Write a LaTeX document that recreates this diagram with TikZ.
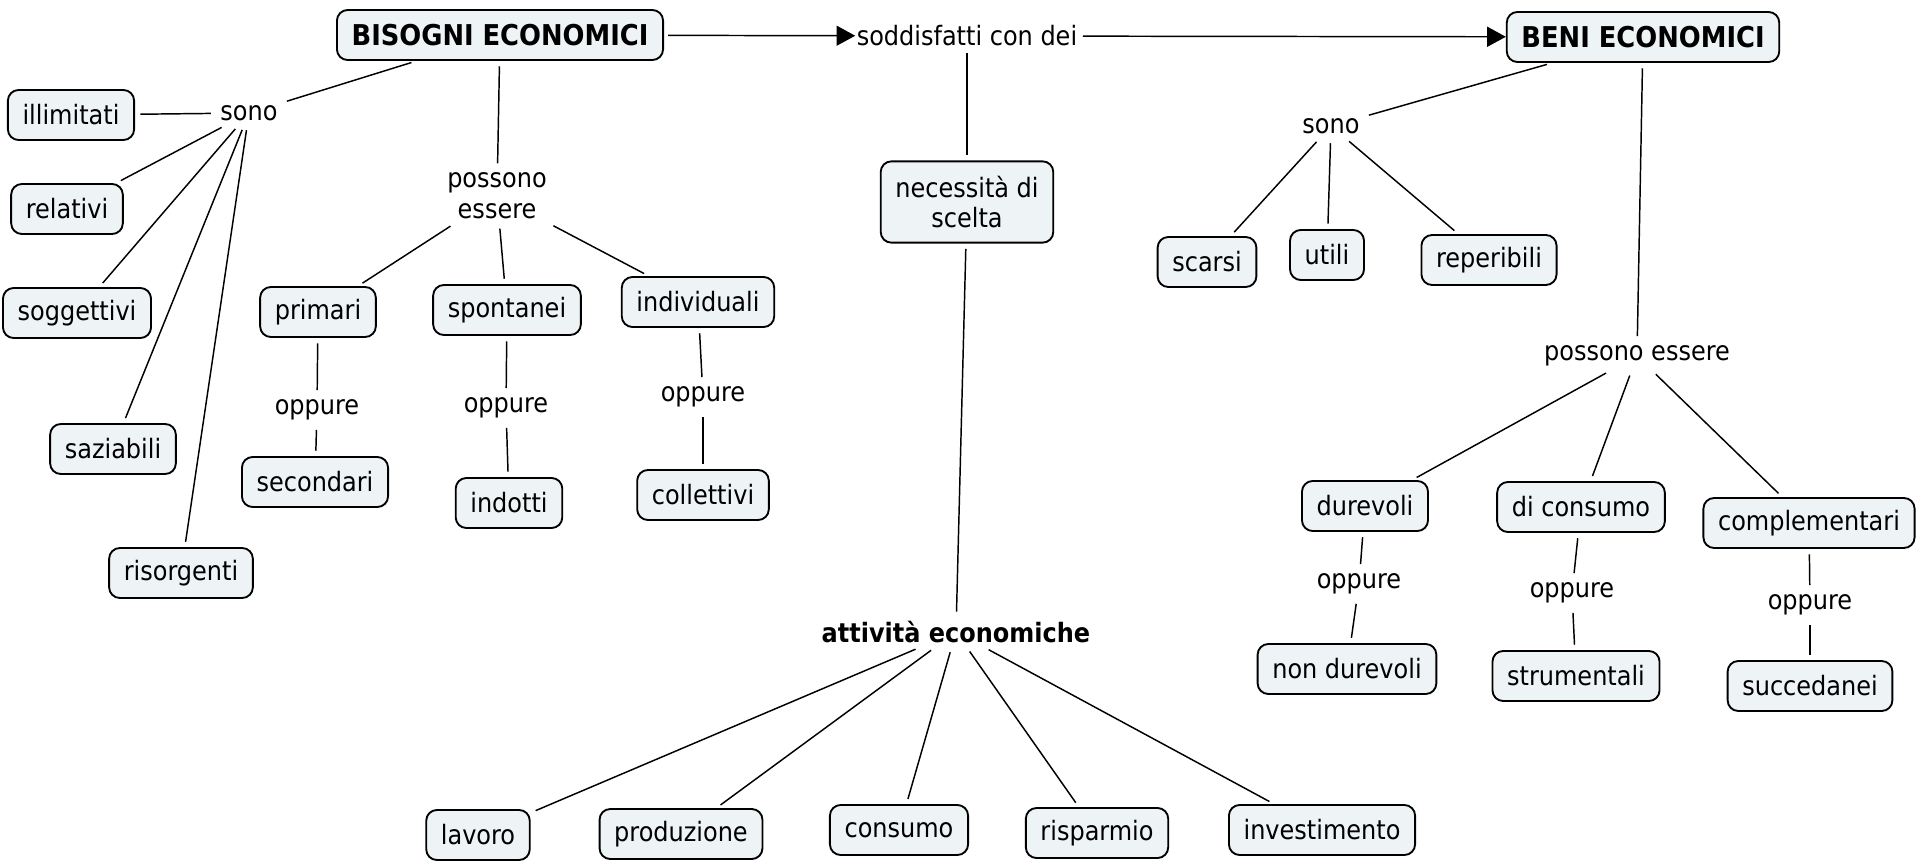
\documentclass[tikz,border=0pt]{standalone}
\usepackage{fontspec}
\setmainfont{DejaVu Sans Condensed}
\usetikzlibrary{arrows.meta}
\definecolor{boxfill}{HTML}{EEF3F5}
\newcommand\fsz{\fontsize{20pt}{23pt}\selectfont}
\newcommand\bsz{\fontsize{21.5pt}{25pt}\selectfont\bfseries}
\newcommand\asz{\fontsize{20pt}{23pt}\selectfont\bfseries}
\tikzset{
  box/.style={draw=black, line width=1.4pt, rounded corners=8pt, fill=boxfill,
    inner xsep=11pt, inner ysep=5pt, minimum height=37.5pt, align=center, font=\fsz},
  lbl/.style={inner sep=3pt, align=center, font=\fsz},
  conn/.style={line width=1.1pt, shorten <=4pt, shorten >=4pt},
  arr/.style={line width=1.1pt, shorten <=3pt, -{Triangle[length=14pt,width=15pt]}}
}
\begin{document}
\begin{tikzpicture}[x=0.75pt,y=-0.75pt]
\useasboundingbox (0,0) rectangle (1920,862);
% top row
\node[box,font=\bsz] (bis) at (500,35) {BISOGNI ECONOMICI};
\node[lbl,inner sep=1pt] (sod) at (967,36) {soddisfatti con dei};
\node[box,font=\bsz] (beni) at (1643,37) {BENI ECONOMICI};
% left: sono
\node[lbl] (sonoL) at (249,113) {sono};
\node[box] (ill) at (71,115) {illimitati};
\node[box] (rel) at (67,209) {relativi};
\node[box] (sog) at (77,313) {soggettivi};
\node[box] (saz) at (113,449) {saziabili};
\node[box] (ris) at (181,573) {risorgenti};
% left: possono essere
\node[lbl] (posL) at (497,196) {possono\\essere};
\node[box] (pri) at (318,312) {primari};
\node[box] (spo) at (507,310) {spontanei};
\node[box] (ind) at (698,302) {individuali};
\node[lbl] (o1) at (317,410) {oppure};
\node[lbl] (o2) at (506,408) {oppure};
\node[lbl] (o3) at (703,397) {oppure};
\node[box] (sec) at (315,482) {secondari};
\node[box] (indo) at (509,503) {indotti};
\node[box] (col) at (703,495) {collettivi};
% middle
\node[box,minimum height=61pt] (nec) at (967,202) {necessità di\\scelta};
\node[lbl,font=\asz] (att) at (956,632) {attività economiche};
\node[box] (lav) at (478,835) {lavoro};
\node[box] (pro) at (681,834) {produzione};
\node[box] (con) at (899,830) {consumo};
\node[box] (rsp) at (1097,833) {risparmio};
\node[box] (inv) at (1322,830) {investimento};
% right: sono
\node[lbl] (sonoR) at (1331,126) {sono};
\node[box] (sca) at (1207,262) {scarsi};
\node[box] (uti) at (1327,255) {utili};
\node[box] (rep) at (1489,260) {reperibili};
% right: possono essere
\node[lbl] (posR) at (1637,356) {possono essere};
\node[box] (dur) at (1365,506) {durevoli};
\node[box] (dic) at (1581,507) {di consumo};
\node[box] (com) at (1809,523) {complementari};
\node[lbl] (r1) at (1359,584) {oppure};
\node[lbl] (r2) at (1572,593) {oppure};
\node[lbl] (r3) at (1810,605) {oppure};
\node[box] (nond) at (1347,669) {non durevoli};
\node[box] (str) at (1576,676) {strumentali};
\node[box] (suc) at (1810,686) {succedanei};
% arrows
\draw[arr] (bis) -- (sod);
\draw[arr] (sod) -- (beni);
% connectors left
\draw[conn] (bis) -- (sonoL);
\foreach \t in {ill,rel,sog,saz,ris} \draw[conn] (sonoL) -- (\t);
\draw[conn] (bis) -- (posL);
\foreach \t in {pri,spo,ind} \draw[conn] (posL) -- (\t);
\draw[conn] (pri) -- (o1); \draw[conn] (o1) -- (sec);
\draw[conn] (spo) -- (o2); \draw[conn] (o2) -- (indo);
\draw[conn] (ind) -- (o3); \draw[conn] (o3) -- (col);
% middle
\draw[conn] (sod) -- (nec);
\draw[conn] (nec) -- (att);
\foreach \t in {lav,pro,con,rsp,inv} \draw[conn] (att) -- (\t);
% right
\draw[conn] (beni) -- (sonoR);
\foreach \t in {sca,uti,rep} \draw[conn] (sonoR) -- (\t);
\draw[conn] (beni) -- (posR);
\foreach \t in {dur,dic,com} \draw[conn] (posR) -- (\t);
\draw[conn] (dur) -- (r1); \draw[conn] (r1) -- (nond);
\draw[conn] (dic) -- (r2); \draw[conn] (r2) -- (str);
\draw[conn] (com) -- (r3); \draw[conn] (r3) -- (suc);
\end{tikzpicture}
\end{document}
